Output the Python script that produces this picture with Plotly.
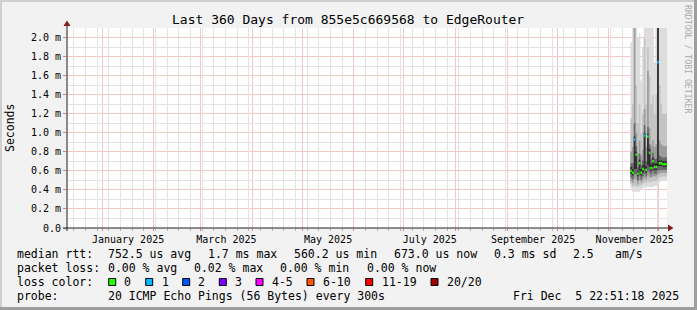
import plotly.graph_objects as go
from datetime import datetime, timedelta

# ---------------- data ----------------
days = ['2025-11-14', '2025-11-15', '2025-11-16', '2025-11-17', '2025-11-18', '2025-11-19',
        '2025-11-20', '2025-11-21', '2025-11-22', '2025-11-23', '2025-11-24', '2025-11-25',
        '2025-11-26', '2025-11-27', '2025-11-28', '2025-11-29', '2025-11-30', '2025-12-01',
        '2025-12-02', '2025-12-03', '2025-12-04', '2025-12-05']
# median rtt (ms) and lost pings (of 20) per day
median_ms = [0.60, 0.58, 0.93, 0.77, 0.57, 0.68, 0.58, 0.62, 0.97, 0.61, 0.96, 0.79,
             0.63, 0.70, 0.64, 0.64, 1.74, 0.68, 0.68, 0.67, 0.67, 0.67]
lost_pings = [0, 0, 1, 0, 0, 0, 0, 0, 1, 0, 0, 0, 0, 0, 0, 0, 1, 0, 0, 0, 0, 0]
# smoke: sorted ping ranks (ms)
ping01 = [0.42, 0.38, 0.38, 0.38, 0.38, 0.38, 0.40, 0.42, 0.43, 0.43, 0.43, 0.43, 0.43, 0.43, 0.44, 0.44, 0.45, 0.48, 0.50, 0.50, 0.50, 0.50]
ping20 = [1.95, 2.40, 2.40, 2.40, 2.00, 2.04, 1.55, 1.90, 2.40, 2.40, 2.40, 2.40, 2.40, 2.40, 1.74, 2.40, 2.40, 2.40, 2.40, 2.40, 2.40, 2.40]
ping03 = [0.46, 0.43, 0.45, 0.44, 0.43, 0.45, 0.45, 0.46, 0.48, 0.47, 0.49, 0.48, 0.48, 0.49, 0.49, 0.49, 0.51, 0.53, 0.54, 0.54, 0.54, 0.54]
ping18 = [1.15, 1.30, 2.40, 1.50, 1.10, 1.30, 1.00, 1.20, 2.00, 1.30, 1.90, 1.60, 1.30, 1.40, 1.20, 1.40, 2.40, 1.50, 1.30, 1.20, 1.20, 1.20]
ping05 = [0.49, 0.47, 0.52, 0.50, 0.46, 0.50, 0.48, 0.50, 0.53, 0.51, 0.55, 0.53, 0.53, 0.54, 0.54, 0.54, 0.56, 0.57, 0.58, 0.58, 0.58, 0.58]
ping16 = [0.80, 0.85, 2.40, 1.00, 0.78, 0.92, 0.76, 0.82, 1.25, 0.85, 1.65, 1.05, 0.86, 0.92, 0.85, 0.88, 2.40, 0.92, 0.88, 0.86, 0.86, 0.86]
ping07 = [0.53, 0.51, 0.57, 0.56, 0.50, 0.55, 0.51, 0.54, 0.57, 0.54, 0.60, 0.58, 0.56, 0.59, 0.57, 0.57, 0.60, 0.61, 0.61, 0.61, 0.61, 0.61]
ping14 = [0.68, 0.68, 1.10, 0.86, 0.64, 0.78, 0.66, 0.71, 1.08, 0.70, 1.06, 0.88, 0.72, 0.79, 0.73, 0.73, 2.40, 0.76, 0.75, 0.74, 0.74, 0.74]
ping09 = [0.57, 0.55, 0.62, 0.62, 0.54, 0.60, 0.55, 0.58, 0.62, 0.58, 0.66, 0.64, 0.60, 0.64, 0.61, 0.61, 0.65, 0.65, 0.65, 0.64, 0.64, 0.64]
ping12 = [0.64, 0.62, 0.96, 0.80, 0.60, 0.72, 0.62, 0.66, 1.00, 0.65, 0.99, 0.83, 0.67, 0.74, 0.68, 0.68, 2.20, 0.71, 0.71, 0.70, 0.70, 0.70]

y_tickvals = [0.0, 0.2, 0.4, 0.6, 0.8, 1.0, 1.2, 1.4, 1.6, 1.8, 2.0]
y_ticktext = ['0.0', '0.2 m', '0.4 m', '0.6 m', '0.8 m', '1.0 m', '1.2 m', '1.4 m', '1.6 m', '1.8 m', '2.0 m']
y_minorvals = [0.1, 0.3, 0.5, 0.7, 0.9, 1.1, 1.3, 1.5, 1.7, 1.9, 2.1]
month_ticks = ['2025-01-01', '2025-02-01', '2025-03-01', '2025-04-01', '2025-05-01', '2025-06-01',
               '2025-07-01', '2025-08-01', '2025-09-01', '2025-10-01', '2025-11-01', '2025-12-01']
month_labels = ['January 2025', '', 'March 2025', '', 'May 2025', '', 'July 2025', '',
                'September 2025', '', 'November 2025', '']

loss_names = ['0', '1', '2', '3', '4-5', '6-10', '11-19', '20/20']
loss_colors = ['#26ff00', '#00b8ff', '#0059ff', '#7e00ff', '#ff00ff', '#ff5500', '#ff0000', '#a10000']

title = 'Last 360 Days from 855e5c669568 to EdgeRouter'
START = datetime(2024, 12, 10, 22, 51, 18)
END = datetime(2025, 12, 5, 22, 51, 18)

# ---------------- geometry helpers ----------------
W, H = 697, 310
PL, PR, PT, PB = 67, 667, 28, 228


def px(x):
    return (x - PL) / (PR - PL)


def py(y):
    return (PB - y) / (PB - PT)


def loss_index(n):
    if n <= 3:
        return n
    if n <= 5:
        return 4
    if n <= 10:
        return 5
    if n <= 19:
        return 6
    return 7


fig = go.Figure()

starts = [datetime.strptime(d, '%Y-%m-%d') for d in days]
ends = [s + timedelta(days=1) for s in starts]

bands = [(ping01, ping20, '#dddddd'), (ping03, ping18, '#c4c4c4'),
         (ping05, ping16, '#9c9c9c'), (ping07, ping14, '#6a6a6a'),
         (ping09, ping12, '#303030')]
for lo, hi, col in bands:
    xs, ys = [], []
    for s, e, h in zip(starts, ends, hi):
        xs += [s, e]
        ys += [h, h]
    for s, e, l in reversed(list(zip(starts, ends, lo))):
        xs += [e, s]
        ys += [l, l]
    fig.add_trace(go.Scatter(x=xs, y=ys, mode='lines', fill='toself', fillcolor=col,
                             line=dict(width=0), hoverinfo='skip'))

for ci, col in enumerate(loss_colors):
    xs, ys = [], []
    for s, e, m, lp in zip(starts, ends, median_ms, lost_pings):
        if loss_index(lp) == ci:
            xs += [s, e, None]
            ys += [m, m, None]
    if xs:
        fig.add_trace(go.Scatter(x=xs, y=ys, mode='lines', line=dict(color=col, width=2.5),
                                 hoverinfo='skip'))

# empty trace so that the overlay (minor grid) axes exist
fig.add_trace(go.Scatter(x=[], y=[], xaxis='x2', yaxis='y2', hoverinfo='skip'))

# weekly minor grid (Sundays, skipping month starts)
sundays = []
d = datetime(2024, 12, 15)
while d < END:
    if d.day != 1:
        sundays.append(d)
    d += timedelta(days=7)

GRID = '#e3e3e3'
MGRID = '#f5c8c8'
FONT = 'DejaVu Sans Mono'

fig.update_layout(
    width=W, height=H,
    margin=dict(l=PL, r=W - PR, t=PT, b=H - PB, pad=0, autoexpand=False),
    paper_bgcolor='#f2f2f2', plot_bgcolor='#ffffff', showlegend=False,
    font=dict(family=FONT, size=10, color='#000000'),
    xaxis=dict(type='date', range=[START, END], tickvals=month_ticks, ticktext=month_labels,
               ticklabelshift=26, showgrid=True, gridcolor=MGRID, gridwidth=1,
               ticks='outside', ticklen=2, tickcolor='#e08080', showline=False, zeroline=False,
               tickfont=dict(family=FONT, size=10)),
    yaxis=dict(range=[0, 2.1], tickvals=y_tickvals, ticktext=y_ticktext, showgrid=True,
               gridcolor=MGRID, ticks='outside', ticklen=3, tickcolor='#e08080',
               zeroline=False, showline=False, tickfont=dict(family=FONT, size=10)),
    xaxis2=dict(type='date', overlaying='x', anchor='y2', range=[START, END], tickvals=sundays,
                showticklabels=False, showgrid=True, gridcolor=GRID,
                ticks='outside', ticklen=2, tickcolor='#b0b0b0', zeroline=False, showline=False),
    yaxis2=dict(overlaying='y', anchor='x2', range=[0, 2.1], tickvals=y_minorvals,
                showticklabels=False, showgrid=True, gridcolor=GRID,
                ticks='', zeroline=False, showline=False),
)

shapes = []
# axes
shapes.append(dict(type='line', xref='paper', yref='paper', x0=px(63), x1=px(669), y0=py(228), y1=py(228),
                   line=dict(color='#1f1f1f', width=1)))
shapes.append(dict(type='line', xref='paper', yref='paper', x0=px(67), x1=px(67), y0=py(231), y1=py(24),
                   line=dict(color='#1f1f1f', width=1)))
# arrows
shapes.append(dict(type='path', xref='paper', yref='paper',
                   path='M {} {} L {} {} L {} {} Z'.format(px(63.5), py(26), px(70.5), py(26), px(67), py(20.5)),
                   fillcolor='#801f1f', line=dict(width=0)))
shapes.append(dict(type='path', xref='paper', yref='paper',
                   path='M {} {} L {} {} L {} {} Z'.format(px(668), py(224.5), px(668), py(231.5), px(673.5), py(228)),
                   fillcolor='#801f1f', line=dict(width=0)))
# frame shading
shapes.append(dict(type='rect', xref='paper', yref='paper', x0=px(0), x1=px(697), y0=py(0), y1=py(2),
                   fillcolor='#cfcfcf', line=dict(width=0), layer='above'))
shapes.append(dict(type='rect', xref='paper', yref='paper', x0=px(0), x1=px(2), y0=py(0), y1=py(310),
                   fillcolor='#cfcfcf', line=dict(width=0), layer='above'))
shapes.append(dict(type='rect', xref='paper', yref='paper', x0=px(0), x1=px(697), y0=py(307), y1=py(310),
                   fillcolor='#9e9e9e', line=dict(width=0), layer='above'))
shapes.append(dict(type='rect', xref='paper', yref='paper', x0=px(694), x1=px(697), y0=py(0), y1=py(310),
                   fillcolor='#9e9e9e', line=dict(width=0), layer='above'))

ann = []


def text(x, y, s, size=11.5, anchor='left', color='#000000', angle=0):
    ann.append(dict(xref='paper', yref='paper', x=px(x), y=py(y), text=s.replace(' ', '\u00a0'),
                    showarrow=False, xanchor=anchor, yanchor='middle', borderpad=0,
                    textangle=angle, font=dict(family=FONT, size=size, color=color)))


text(348, 19, title, size=13, anchor='center')
text(10, 128, 'Seconds', size=11.5, anchor='center', angle=-90)
text(688, 59, 'RRDTOOL / TOBI OETIKER', size=8.2, anchor='center', color='#aaaaaa', angle=90)

L1, L2, L3, L4 = 254, 268, 282, 296
text(16, L1, 'median rtt:')
for x, s in [(107.3, '752.5 us avg'), (207.3, '1.7 ms max'), (293.3, '560.2 us min'),
             (393.3, '673.0 us now'), (493.3, '0.3 ms sd'), (572.3, '2.5'), (614.3, 'am/s')]:
    text(x, L1, s)
text(16, L2, 'packet loss:')
for x, s in [(107.3, '0.00 % avg'), (193.3, '0.02 % max'), (279.3, '0.00 % min'), (365.7, '0.00 % now')]:
    text(x, L2, s)
text(16, L3, 'loss color:')
box_x = [108.7, 145.7, 182.7, 219.3, 256, 307, 365.7, 431]
lab_x = [123.3, 161, 197.3, 234.3, 271, 321.7, 380.7, 445.7]
for bx, lx, name, col in zip(box_x, lab_x, loss_names, loss_colors):
    shapes.append(dict(type='rect', xref='paper', yref='paper', x0=px(bx), x1=px(bx + 7),
                       y0=py(L3 - 3.5), y1=py(L3 + 3.5), fillcolor=col,
                       line=dict(color='#000000', width=1)))
    text(lx, L3, name)
text(16, L4, 'probe:')
text(107.3, L4, '20 ICMP Echo Pings (56 Bytes) every 300s')
text(680, L4, 'Fri Dec  5 22:51:18 2025', anchor='right')

fig.update_layout(shapes=shapes, annotations=ann)
fig.write_html('out.html')
